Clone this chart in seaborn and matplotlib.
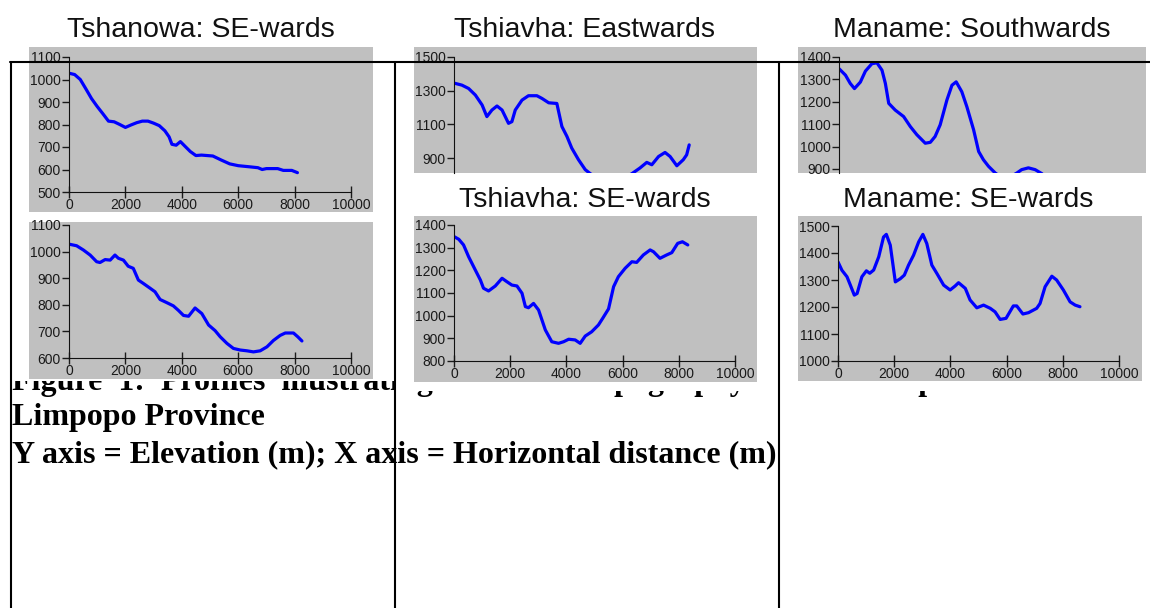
import seaborn as sns
import matplotlib.pyplot as plt
from matplotlib.patches import Rectangle
from matplotlib.lines import Line2D
from matplotlib.transforms import Bbox, TransformedBbox

W, H = 1150, 608

# Elevation profiles: horizontal distance (m) and elevation (m)
tshanowa_a_x = [0, 200, 400, 600, 800, 1000, 1200, 1400, 1600, 1800, 2000, 2200, 2400, 2600,
                2800, 3000, 3200, 3400, 3550, 3650, 3800, 3950, 4100, 4300, 4500, 4700, 5100,
                5400, 5700, 6000, 6400, 6700, 6850, 7000, 7400, 7600, 7900, 8100]
tshanowa_a_y = [1028, 1022, 1000, 958, 915, 880, 848, 815, 812, 800, 787, 798, 808, 815,
                815, 806, 795, 772, 745, 712, 708, 724, 705, 680, 662, 664, 660,
                642, 625, 617, 612, 608, 600, 604, 604, 596, 596, 586]

tshanowa_b_x = [0, 270, 510, 750, 980, 1100, 1280, 1460, 1630, 1750, 1930, 2100, 2280, 2460,
                2640, 2880, 3050, 3230, 3470, 3700, 3880, 4060, 4240, 4470, 4710, 4950, 5180,
                5360, 5600, 5830, 6070, 6310, 6540, 6780, 7020, 7250, 7490, 7670, 7960, 8120, 8260]
tshanowa_b_y = [1028, 1022, 1006, 987, 962, 959, 970, 968, 987, 975, 968, 945, 937, 893,
                880, 862, 849, 820, 808, 796, 779, 760, 757, 788, 767, 724, 703,
                680, 655, 636, 630, 627, 623, 627, 642, 666, 685, 694, 694, 679, 664]

tshiavha_e_x = [0, 280, 520, 760, 1000, 1170, 1350, 1530, 1710, 1940, 2060, 2180, 2420, 2650,
                2950, 3130, 3370, 3660, 3840, 4020, 4190, 4430, 4670, 4850, 5200, 5600, 6000,
                6330, 6620, 6860, 7040, 7280, 7510, 7690, 7930, 8160, 8280, 8370]
tshiavha_e_y = [1345, 1333, 1313, 1274, 1215, 1146, 1185, 1209, 1185, 1106, 1116, 1185, 1244, 1270,
                1270, 1254, 1228, 1224, 1087, 1028, 959, 890, 831, 807, 770, 760, 775,
                807, 841, 874, 860, 909, 933, 909, 854, 890, 919, 978]

tshiavha_se_x = [0, 170, 340, 520, 760, 940, 1050, 1230, 1470, 1710, 1880, 2060, 2240, 2420,
                 2540, 2650, 2830, 3010, 3250, 3480, 3720, 3900, 4080, 4310, 4490, 4670, 4900,
                 5140, 5300, 5500, 5680, 5850, 6090, 6330, 6500, 6740, 6980, 7100, 7330, 7570,
                 7750, 7960, 8130, 8320]
tshiavha_se_y = [1349, 1337, 1312, 1260, 1201, 1157, 1121, 1109, 1131, 1165, 1150, 1135, 1131, 1099,
                 1040, 1035, 1054, 1025, 937, 885, 878, 885, 896, 893, 878, 910, 929,
                 959, 990, 1030, 1128, 1172, 1209, 1238, 1235, 1268, 1290, 1282, 1253, 1268,
                 1278, 1319, 1326, 1312]

maname_s_x = [0, 230, 400, 550, 760, 940, 1170, 1350, 1530, 1650, 1770, 2000, 2300, 2540,
              2770, 3070, 3250, 3420, 3600, 3840, 4020, 4170, 4370, 4550, 4790, 4970, 5140,
              5320, 5560, 5800, 6100, 6330, 6500, 6740, 6980, 7220, 7500]
maname_s_y = [1348, 1319, 1282, 1259, 1288, 1337, 1370, 1374, 1341, 1282, 1193, 1163, 1134, 1089,
              1053, 1015, 1019, 1045, 1097, 1208, 1274, 1289, 1245, 1178, 1075, 978, 941,
              912, 882, 860, 865, 882, 897, 905, 897, 879, 840]

maname_se_x = [0, 140, 320, 440, 580, 680, 850, 1010, 1130, 1270, 1450, 1620, 1720, 1860,
               2040, 2220, 2360, 2510, 2690, 2870, 3020, 3160, 3340, 3520, 3760, 3990, 4170,
               4290, 4530, 4700, 4940, 5180, 5420, 5590, 5770, 5980, 6240, 6360, 6580, 6780,
               7070, 7190, 7370, 7610, 7780, 8020, 8260, 8440, 8610]
maname_se_y = [1367, 1336, 1312, 1281, 1244, 1250, 1312, 1334, 1325, 1337, 1386, 1459, 1469, 1429,
               1293, 1305, 1318, 1355, 1392, 1441, 1469, 1435, 1355, 1324, 1281, 1263, 1278,
               1290, 1269, 1226, 1197, 1207, 1195, 1182, 1154, 1158, 1204, 1204, 1174, 1179,
               1195, 1213, 1275, 1314, 1300, 1263, 1219, 1207, 1201]

x_ticks = [0, 2000, 4000, 6000, 8000, 10000]

caption_lines = ["Figure 1: Profiles illustrating the local topography of the sampled areas in",
                 "Limpopo Province",
                 "Y axis = Elevation (m); X axis = Horizontal distance (m)"]

sns.set_style("white")
plt.rcParams['font.family'] = ['Liberation Sans', 'DejaVu Sans']
plt.rcParams['text.color'] = 'black'
serif = ['Liberation Serif', 'DejaVu Serif']

fig = plt.figure(figsize=(W / 100, H / 100), dpi=100)


def frac(left, top, right, bottom):
    return [left / W, 1 - bottom / H, (right - left) / W, (bottom - top) / H]


def add_rect(left, top, right, bottom, color, z):
    x0, y0, w, h = frac(left, top, right, bottom)
    fig.add_artist(Rectangle((x0, y0), w, h, transform=fig.transFigure,
                             facecolor=color, edgecolor='none', zorder=z))


# caption first line (justified, so wider word gaps); the chart picture lies over it
# and only its lowest part peeks out
first_line = caption_lines[0].replace(' ', '\u2002')
for x_lo, x_hi, y_cut in [(0, 395, 381), (395, W, 391)]:
    cap0 = fig.text(12 / W, 1 - 390 / H, first_line, family=serif,
                    weight='bold', size=23, va='baseline', color='black', zorder=-3)
    cap0.set_clip_box(TransformedBbox(Bbox([[x_lo / W, 0], [x_hi / W, 1 - y_cut / H]]),
                                      fig.transFigure))
    cap0.set_clip_on(True)

# (axes box, gray box, ylim, yticks, data, show x axis)
panels = [
    ((69, 57, 351, 192), (29, 47, 373, 212), (500, 1100), range(500, 1101, 100),
     tshanowa_a_x, tshanowa_a_y, True),
    ((69, 225, 351, 358), (29, 222, 373, 379), (600, 1100), range(600, 1101, 100),
     tshanowa_b_x, tshanowa_b_y, True),
    ((454, 57, 735, 173), (414, 47, 757, 173), (811, 1500), range(900, 1501, 200),
     tshiavha_e_x, tshiavha_e_y, False),
    ((454, 225, 735, 361), (414, 216, 757, 382), (800, 1400), range(800, 1401, 100),
     tshiavha_se_x, tshiavha_se_y, True),
    ((839, 57, 1120, 173), (798, 47, 1146, 173), (882, 1400), range(900, 1401, 100),
     maname_s_x, maname_s_y, False),
    ((838, 226, 1119, 361), (798, 216, 1142, 381), (1000, 1500), range(1000, 1501, 100),
     maname_se_x, maname_se_y, True),
]

for abox, gbox, ylim, yticks, xs, ys, show_x in panels:
    add_rect(*gbox, '#c0c0c0', -1)
    ax = fig.add_axes(frac(*abox))
    ax.patch.set_visible(False)
    sns.lineplot(x=xs, y=ys, ax=ax, color='#0000ff', linewidth=2.3)
    ax.set_xlim(0, 10000)
    ax.set_ylim(*ylim)
    ax.set_yticks(list(yticks))
    for s in ['top', 'right']:
        ax.spines[s].set_visible(False)
    ax.spines['left'].set_color('#111111')
    ax.spines['bottom'].set_color('#111111')
    ax.tick_params(axis='y', direction='out', length=5, width=1, pad=1,
                   labelsize=10, colors='#1a1a1a', left=True)
    if show_x:
        ax.set_xticks(x_ticks)
        ax.tick_params(axis='x', direction='inout', length=8, width=1, pad=0,
                       labelsize=10, colors='#1a1a1a', bottom=True)
    else:
        ax.spines['bottom'].set_visible(False)
        ax.set_xticks([])
    ax.set_xlabel('')
    ax.set_ylabel('')

titles = [("Tshanowa: SE-wards", 201, 37), ("Tshiavha: Eastwards", 585, 37),
          ("Tshiavha: SE-wards", 585, 207), ("Maname: Southwards", 972, 37),
          ("Maname: SE-wards", 968, 207)]
for t, cx, by in titles:
    fig.text(cx / W, 1 - by / H, t, ha='center', va='baseline', size=20.5, color='#111111')

fig.text(12 / W, 1 - 425 / H, caption_lines[1], family=serif, weight='bold',
         size=23, va='baseline', color='black')
fig.text(12 / W, 1 - 462 / H, caption_lines[2], family=serif, weight='bold',
         size=23, va='baseline', color='black')

# table rules of the page
fig.add_artist(Line2D([10 / W, 1], [1 - 62 / H] * 2, transform=fig.transFigure,
                      color='black', lw=1.5, zorder=5))
for xv in [11, 395, 779]:
    fig.add_artist(Line2D([xv / W] * 2, [1 - 62 / H, 0], transform=fig.transFigure,
                          color='black', lw=1.5, zorder=5))

fig.savefig('out.png', dpi=100)
